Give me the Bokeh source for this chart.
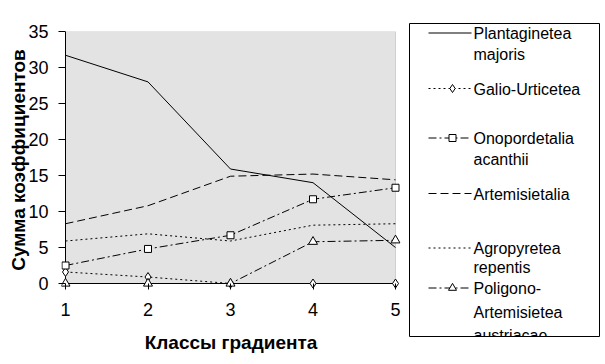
from bokeh.plotting import figure
from bokeh.models import Range1d, FixedTicker, BoxAnnotation, Arrow
from bokeh.layouts import row
from bokeh.core.properties import value
from bokeh.embed import file_html
from bokeh.resources import INLINE

# ---- data ----
classes = [1, 2, 3, 4, 5]
plantaginetea = [31.7, 28.0, 15.9, 14.0, 5.0]
galio = [1.6, 0.9, 0.0, 0.0, 0.0]
onopordetalia = [2.5, 4.8, 6.7, 11.7, 13.3]
artemisietalia = [8.3, 10.8, 14.9, 15.2, 14.4]
agropyretea = [5.9, 6.9, 5.9, 8.1, 8.3]
poligono = [0.0, 0.0, 0.0, 5.8, 6.0]

labels = [
    ["Plantaginetea", "majoris"],
    ["Galio-Urticetea"],
    ["Onopordetalia", "acanthii"],
    ["Artemisietalia"],
    ["Agropyretea", "repentis"],
    ["Poligono-", "Artemisietea", "austriacae"],
]
y_ticks = [0, 5, 10, 15, 20, 25, 30, 35]
x_label = "Классы градиента"
y_label = "Сумма коэффициентов"

series = [plantaginetea, galio, onopordetalia, artemisietalia, agropyretea, poligono]
dashes = ["solid", "2 3", "8 3 2 3", "8 4", "2 3", "8 3 2 3"]
markers = [None, "diamond", "square", None, None, "triangle"]
msizes = [0, 9, 7, 0, 0, 9]

FONT = "Liberation Sans"
X0, X1 = classes[0], classes[-1]
Y0, Y1 = y_ticks[0], y_ticks[-1]

# plot frame is a few pixels larger than the grey plot area so markers at the edges are not cut
p = figure(width=409, height=364, output_backend="svg", toolbar_location=None,
           x_range=Range1d(X0 - 4 / 82.5, X1 + 5 / 82.5), y_range=Range1d(Y0 - 5 / 7.2, Y1),
           min_border_left=61, min_border_right=9, min_border_top=31, min_border_bottom=76,
           frame_align=False)
p.background_fill_color = "white"
p.border_fill_color = "white"
p.outline_line_color = None
p.xgrid.visible = False
p.ygrid.visible = False

p.add_layout(BoxAnnotation(left=X0, right=X1, bottom=Y0, top=Y1,
                           fill_color="#e3e3e3", fill_alpha=1, line_color="#808080",
                           line_width=1, level="underlay"))
p.add_layout(Arrow(x_start=X0, y_start=Y0, x_end=X0, y_end=Y1, end=None,
                   line_color="black", line_width=1, level="underlay"))
p.add_layout(Arrow(x_start=X0, y_start=Y0, x_end=X1, y_end=Y0, end=None,
                   line_color="black", line_width=1, level="underlay"))

for ys, d, m, s in zip(series, dashes, markers, msizes):
    p.line(classes, ys, line_color="black", line_width=1, line_dash=d)
    if m:
        p.scatter(classes, ys, marker=m, size=s, fill_color="white",
                  line_color="black", line_width=1)

for ax in (p.xaxis[0], p.yaxis[0]):
    ax.axis_line_color = None
    ax.major_tick_line_color = "black"
    ax.minor_tick_line_color = None
    ax.major_label_text_font = FONT
    ax.major_label_text_font_size = "18px"
    ax.major_label_text_color = "black"
    ax.axis_label_text_font = FONT
    ax.axis_label_text_font_size = "19px"
    ax.axis_label_text_font_style = "bold"
    ax.axis_label_text_color = "black"

p.xaxis.ticker = FixedTicker(ticks=classes)
p.yaxis.ticker = FixedTicker(ticks=y_ticks)
p.xaxis.major_tick_in = 5
p.xaxis.major_tick_out = 1
p.yaxis.major_tick_in = 4
p.yaxis.major_tick_out = 3
p.xaxis.major_label_standoff = 13
p.yaxis.major_label_standoff = 10
p.xaxis.axis_label = x_label
p.yaxis.axis_label = y_label
p.xaxis.axis_label_standoff = 13
p.yaxis.axis_label_standoff = -4

# ---- legend panel (page pixel coordinates) ----
lg = figure(width=196, height=364, output_backend="svg", toolbar_location=None,
            x_range=Range1d(409, 599), y_range=Range1d(336, 23),
            x_axis_type=None, y_axis_type=None, frame_align=False,
            min_border_left=0, min_border_right=6, min_border_top=23, min_border_bottom=28)
lg.xgrid.visible = False
lg.ygrid.visible = False
lg.outline_line_color = "black"
lg.outline_line_width = 1
lg.background_fill_color = "white"
lg.border_fill_color = "white"

SAMPLE_Y = [32.5, 88, 137.5, 193, 247.5, 287.5]
LINE_GAPS = [20.5, 20.5, 20.5, 20.5, 18.5, 23.5]
TEXT_DY = 0.5
SAMPLE_X0, SAMPLE_X1, MARK_X, TEXT_X = 428, 471, 452, 473
LEG_MSIZE = [0, 8, 7, 0, 0, 8]

for lines, sy, gap, d, m, s in zip(labels, SAMPLE_Y, LINE_GAPS, dashes, markers, LEG_MSIZE):
    lg.line([SAMPLE_X0, SAMPLE_X1], [sy, sy], line_color="black", line_width=1, line_dash=d)
    if m:
        lg.scatter([MARK_X], [sy], marker=m, size=s,
                   fill_color="white", line_color="black", line_width=1)
    base = sy + TEXT_DY
    lg.text([TEXT_X] * len(lines), [base + i * gap for i in range(len(lines))],
            text=lines, text_font=value(FONT), text_font_size="16px",
            text_baseline="alphabetic", text_align="left", text_color="black")

layout = row(p, lg)
open("out.html", "w").write(file_html(layout, INLINE))
